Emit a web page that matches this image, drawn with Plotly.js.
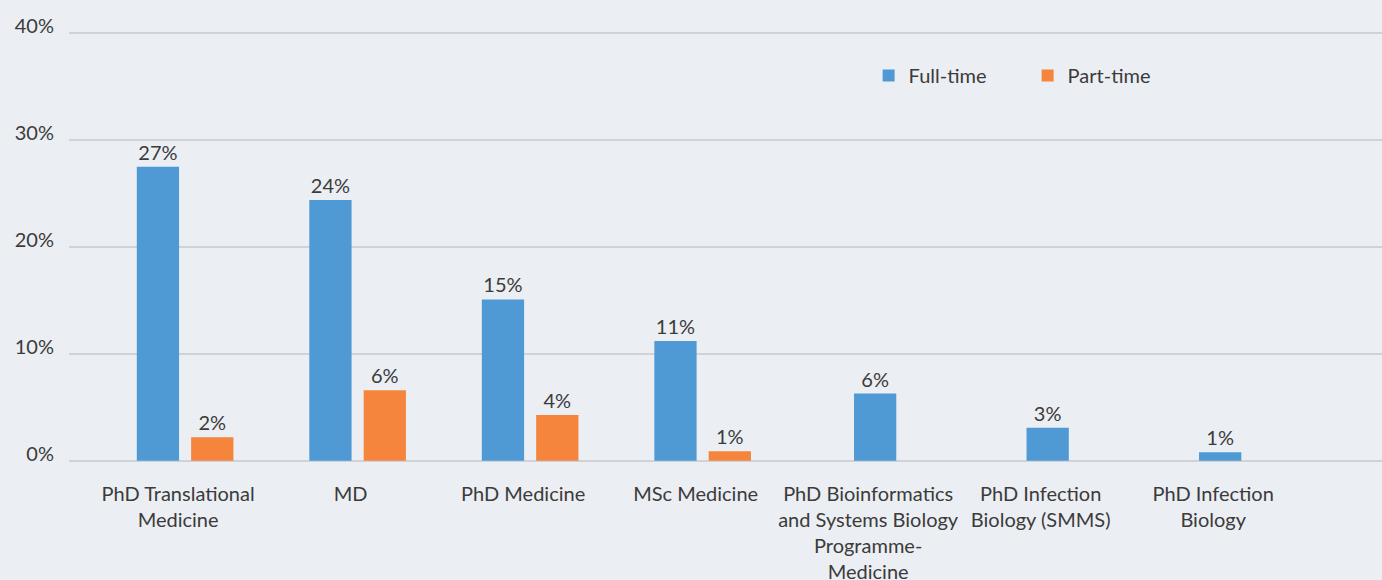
<!DOCTYPE html>
<html>
<head>
<meta charset="utf-8">
<script src="https://cdn.plot.ly/plotly-3.0.1.min.js"></script>
<style>
html,body{margin:0;padding:0;background:#ebeef3;}
#chart{width:1382px;height:580px;}
</style>
</head>
<body>
<div id="chart"></div>
<script>
const programmes = [
  "PhD Translational<br>Medicine",
  "MD",
  "PhD Medicine",
  "MSc Medicine",
  "PhD Bioinformatics<br>and Systems Biology<br>Programme-<br>Medicine",
  "PhD Infection<br>Biology (SMMS)",
  "PhD Infection<br>Biology"
];
const fullTime = [27.5, 24.4, 15.1, 11.2, 6.3, 3.1, 0.8];
const partTime = [2.2, 6.6, 4.3, 0.9, null, null, null];
const fullTimeLabels = ["27%", "24%", "15%", "11%", "6%", "3%", "1%"];
const partTimeLabels = ["2%", "6%", "4%", "1%", "", "", ""];
const yTicks = [0, 10, 20, 30, 40];
const yTickText = ["0%", "10%", "20%", "30%", "40%"];

const BW = 0.245, GAP = 0.07;
const blueOffset = partTime.map(v => v == null ? -BW / 2 : -(BW + GAP / 2));
const orangeOffset = partTime.map(() => GAP / 2);

const textFont = {family: "Lato, 'Open Sans', sans-serif", size: 20, color: "#3b3b3b"};

const traces = [
  {
    type: "bar", name: "Full-time", x: programmes, y: fullTime,
    width: BW, offset: blueOffset,
    marker: {color: "#4f9ad5"},
    text: fullTimeLabels, textposition: "outside", textfont: textFont,
    cliponaxis: false, hoverinfo: "x+y"
  },
  {
    type: "bar", name: "Part-time", x: programmes, y: partTime,
    width: BW, offset: orangeOffset,
    marker: {color: "#f5853d"},
    text: partTimeLabels, textposition: "outside", textfont: textFont,
    cliponaxis: false, hoverinfo: "x+y"
  }
];

const layout = {
  width: 1382, height: 580,
  paper_bgcolor: "#ebeef3", plot_bgcolor: "#ebeef3",
  margin: {l: 69, r: 0, t: 31, b: 117},
  barmode: "overlay",
  font: textFont,
  showlegend: true,
  legend: {
    orientation: "h", x: 0.609, xanchor: "left", y: 0.897, yanchor: "middle",
    font: textFont, bgcolor: "rgba(0,0,0,0)", traceorder: "normal",
    entrywidth: 114
  },
  xaxis: {
    type: "category", range: [-0.673, 6.938],
    showgrid: false, zeroline: false, showline: false, ticks: "",
    tickfont: textFont, ticklabelstandoff: 17, ticklabelshift: -7,
    fixedrange: true
  },
  yaxis: {
    range: [-0.2, 40.2], tickvals: yTicks, ticktext: yTickText,
    showgrid: true, gridcolor: "#cfd2d6", gridwidth: 2,
    zeroline: false, showline: false, ticks: "",
    tickfont: textFont, ticklabelstandoff: 14, ticklabelshift: -7,
    fixedrange: true
  }
};

Plotly.newPlot("chart", traces, layout, {displayModeBar: false, staticPlot: true});
</script>
</body>
</html>
